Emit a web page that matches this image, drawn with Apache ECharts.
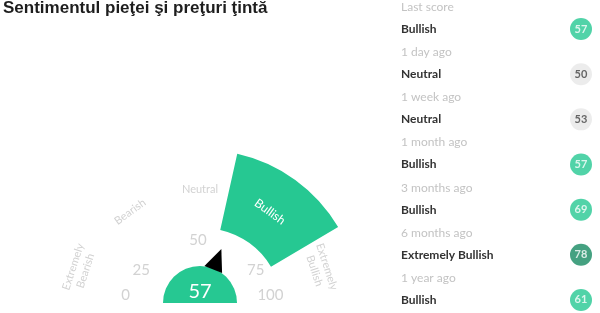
<!DOCTYPE html>
<html><head><meta charset="utf-8">
<script src="https://cdn.jsdelivr.net/npm/echarts@6/dist/echarts.min.js"></script>
<style>html,body{margin:0;padding:0;background:#fff}#c{width:600px;height:313px}</style>
</head><body><div id="c"></div>
<script>
// ---- data ----
const chartTitle = 'Sentimentul pieţei şi preţuri ţintă';
const score = 57;
const bandNames = ['Extremely\nBearish', 'Bearish', 'Neutral', 'Bullish', 'Extremely\nBullish'];
const bandEdges = [0, 25, 45, 55, 75, 100];
const gaugeTicks = [0, 25, 50, 75, 100];
const historyPeriods = ['Last score', '1 day ago', '1 week ago', '1 month ago', '3 months ago', '6 months ago', '1 year ago'];
const historyLabels = ['Bullish', 'Neutral', 'Neutral', 'Bullish', 'Bullish', 'Extremely Bullish', 'Bullish'];
const historyScores = [57, 50, 53, 57, 69, 78, 61];

// ---- styles ----
const GREEN = '#26c892';
const DARK_GREEN = '#168961';
const GREY_BADGE = '#e7e7e7';
const FAINT = '#d2d2d2';
const FONT = 'Lato, "Noto Sans", sans-serif';
const EXPAND = 1.3;

// band index + display position (bands drawn evenly)
const nb = bandNames.length;
let activeBand = 0;
for (let i = 0; i < nb; i++) if (score >= bandEdges[i] && score < bandEdges[i + 1]) activeBand = i;
const frac = (score - bandEdges[activeBand]) / (bandEdges[activeBand + 1] - bandEdges[activeBand]);
const displayValue = (activeBand + frac) * 100 / nb;
const bandMid = (activeBand + 0.5) * 100 / nb;
const bandHalf = 50 / nb * EXPAND;
const lo = (bandMid - bandHalf) / 100, hi = (bandMid + bandHalf) / 100;
const tMin = gaugeTicks[0], tMax = gaugeTicks[gaugeTicks.length - 1], tSplit = gaugeTicks.length - 1;

const hidden = {
  axisTick: {show: false}, splitLine: {show: false, length: 0, distance: 0},
  pointer: {show: false}, detail: {show: false}, title: {show: false},
  anchor: {show: false}, progress: {show: false}
};

const badgeColor = l => l === 'Neutral' ? GREY_BADGE : (l === 'Extremely Bullish' ? DARK_GREEN : GREEN);

const tickGauge = (center, radius, startAngle, endAngle, keep) => Object.assign({}, hidden, {
  type: 'gauge', center, radius, startAngle, endAngle,
  min: tMin, max: tMax, splitNumber: tSplit, silent: true,
  axisLine: {show: false},
  axisLabel: {show: true, distance: 0, rotate: 0.0001, fontFamily: FONT, fontSize: 15, color: FAINT,
    formatter: v => keep(gaugeTicks.indexOf(v)) ? String(v) : ''},
  data: [{value: 0}]
});

const option = {
  animation: false,
  title: {
    text: chartTitle, left: 3, top: 0, padding: 0,
    textStyle: {fontFamily: '"Liberation Sans", Arial, sans-serif', fontWeight: 'bold', fontSize: 17, color: '#1e1e1e'}
  },
  grid: {left: 570, width: 22, top: 6.5, height: 316, outerBoundsMode: 'none', containLabel: false},
  xAxis: {type: 'category', data: ['score'], show: false},
  yAxis: {
    type: 'category', inverse: true, data: historyPeriods,
    axisLine: {show: false}, axisTick: {show: false}, splitLine: {show: false},
    axisLabel: {
      interval: 0, margin: 169, align: 'left', hideOverlap: false,
      formatter: (v, i) => '{t|' + v + '}\n{s|' + historyLabels[i] + '}\n{e| }',
      rich: {
        t: {fontFamily: FONT, fontSize: 12, color: '#c3c3c3', lineHeight: 22},
        s: {fontFamily: FONT, fontSize: 12, fontWeight: 'bold', color: '#333', lineHeight: 22},
        e: {fontSize: 12, lineHeight: 22}
      }
    }
  },
  series: [
    // highlighted band sector
    Object.assign({}, hidden, {
      type: 'gauge', center: [203, 307], radius: 157, startAngle: 180, endAngle: 0, min: 0, max: 100,
      silent: true,
      axisLine: {lineStyle: {width: 78, color: [[lo, 'rgba(0,0,0,0)'], [hi, GREEN], [1, 'rgba(0,0,0,0)']]}},
      axisLabel: {show: false},
      data: [{value: 0}]
    }),
    // band names
    Object.assign({}, hidden, {
      type: 'gauge', center: [200, 308], radius: 119, startAngle: 180, endAngle: 0, min: 0, max: 100,
      splitNumber: nb * 2, silent: true,
      axisLine: {show: false},
      axisLabel: {
        show: true, distance: 0, rotate: 'tangential', fontFamily: FONT, fontSize: 11, color: FAINT, lineHeight: 13,
        formatter: v => {
          const k = (v / (100 / nb) - 0.5);
          const i = Math.round(k);
          if (Math.abs(k - i) > 1e-6 || i < 0 || i >= nb) return '';
          const name = bandNames[i];
          const txt = i === activeBand ? '{w|' + name + '}' : name;
          return name.indexOf('\n') >= 0 ? txt + '\n{e| }' : txt;
        },
        rich: {w: {color: '#ffffff', fontFamily: FONT, fontSize: 12}, e: {fontSize: 11, lineHeight: 16}}
      },
      data: [{value: 0}]
    }),
    // tick numbers (ends + middle, quarter ticks)
    tickGauge([198, 315], 75, 165, 15, i => i % 2 === 0),
    tickGauge([198.5, 327], 81, 180, 0, i => i % 2 === 1),
    // score disk + pointer
    Object.assign({}, hidden, {
      type: 'gauge', center: [200, 303], radius: 37, startAngle: 180, endAngle: 0, min: 0, max: 100,
      silent: true,
      axisLine: {lineStyle: {width: 37, color: [[1, GREEN]]}},
      axisLabel: {show: false},
      pointer: {show: true, icon: 'triangle', length: 22, width: 19, offsetCenter: [0, -36], itemStyle: {color: '#000'}},
      detail: {show: true, formatter: () => String(score), offsetCenter: [0, -11], color: '#fff', fontFamily: FONT, fontSize: 20, fontWeight: 'normal'},
      data: [{value: displayValue}]
    }),
    // history badges
    {
      type: 'scatter', symbol: 'circle', symbolSize: 22, silent: true,
      data: historyScores.map((s, i) => ({
        value: [0, i, s],
        itemStyle: {color: badgeColor(historyLabels[i])},
        label: {color: historyLabels[i] === 'Neutral' ? '#444' : '#fff'}
      })),
      label: {show: true, position: 'inside', formatter: p => p.value[2], fontFamily: FONT, fontSize: 11, fontWeight: 'bold'}
    }
  ]
};
const chart = echarts.init(document.getElementById('c'));
chart.setOption(option);
</script></body></html>
